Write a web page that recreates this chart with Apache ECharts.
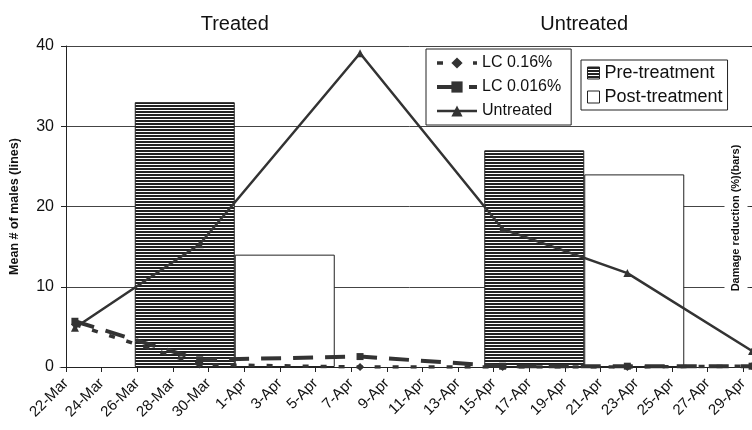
<!DOCTYPE html>
<html><head><meta charset="utf-8">
<script src="https://cdn.jsdelivr.net/npm/echarts@6/dist/echarts.min.js"></script>
<style>html,body{margin:0;padding:0;background:#fff}#c{width:752px;height:430px}</style>
</head><body><div id="c"></div>
<script>
// ---- data ----
const tickLabels = ['22-Mar','24-Mar','26-Mar','28-Mar','30-Mar','1-Apr','3-Apr','5-Apr','7-Apr','9-Apr','11-Apr','13-Apr','15-Apr','17-Apr','19-Apr','21-Apr','23-Apr','25-Apr','27-Apr','29-Apr'];
const sampleDates = ['22-Mar','29-Mar','7-Apr','15-Apr','22-Apr','29-Apr'];
const lcHigh = [5.3, 0.3, 0.0, 0.0, 0.0, 0.1];     // LC 0.16%
const lcLow = [5.7, 0.9, 1.3, 0.1, 0.1, 0.1];      // LC 0.016%
const untreated = [4.9, 15.3, 39.1, 17.2, 11.7, 2.0];
const groups = ['Treated', 'Untreated'];
const preTreatment = [33, 27];
const postTreatment = [14, 24];

const MONTHS = {Mar: 2, Apr: 3};
function dayIndex(s) {
  const p = s.split('-');
  return Math.round((Date.UTC(2000, MONTHS[p[1]], +p[0]) - Date.UTC(2000, 2, 22)) / 86400000);
}
function pts(vals) { return sampleDates.map((s, i) => [dayIndex(s) + 0.5, vals[i]]); }

const FF = '"Liberation Sans", Arial, sans-serif';
const INK = '#333';

// hatch pattern (horizontal lines)
const pc = document.createElement('canvas');
pc.width = 4; pc.height = 3;
const pctx = pc.getContext('2d');
pctx.fillStyle = '#fff'; pctx.fillRect(0, 0, 4, 3);
pctx.fillStyle = '#222'; pctx.fillRect(0, 0, 4, 2);
const hatch = {image: pc, repeat: 'repeat'};

const chart = echarts.init(document.getElementById('c'), null, {renderer: 'canvas'});
chart.setOption({
  animation: false,
  backgroundColor: '#fff',
  textStyle: {fontFamily: FF},
  grid: [
    {left: 60, right: -7, top: 46, bottom: 63, outerBoundsMode: 'none', containLabel: false},
    {left: 66, right: -9, top: 46, bottom: 63, outerBoundsMode: 'none', containLabel: false}
  ],
  xAxis: [
    {gridIndex: 0, type: 'category', data: groups, position: 'top', offset: 2,
     axisLine: {lineStyle: {color: '#777', width: 1}}, axisTick: {show: false},
     axisLabel: {fontSize: 20, color: '#111', fontFamily: FF, margin: 10}, splitLine: {show: false}},
    {gridIndex: 1, type: 'value', min: 0, max: 39, interval: 2,
     axisLine: {onZero: false, lineStyle: {color: '#222', width: 1}},
     axisTick: {length: 5, lineStyle: {color: '#222'}},
     axisLabel: {rotate: 45, fontSize: 15, color: '#111', fontFamily: FF, margin: 14,
       formatter: v => (v % 2 === 0 && tickLabels[v / 2]) ? tickLabels[v / 2] : ''},
     splitLine: {show: false}}
  ],
  yAxis: [
    {gridIndex: 0, type: 'value', min: 0, max: 40, interval: 10, position: 'right',
     axisLine: {show: true, lineStyle: {color: '#222'}},
     axisTick: {show: true, inside: true, length: 9, lineStyle: {color: '#222'}},
     axisLabel: {show: false}, splitLine: {show: false}},
    {gridIndex: 1, type: 'value', min: 0, max: 40, interval: 10, position: 'left',
     axisLine: {show: true, lineStyle: {color: '#222'}},
     axisTick: {show: true, length: 5, lineStyle: {color: '#222'}},
     axisLabel: {fontSize: 16, color: '#111', fontFamily: FF, margin: 12},
     splitLine: {show: true, lineStyle: {color: '#444', width: 1}},
     name: 'Mean # of males (lines)', nameLocation: 'middle', nameGap: 45,
     nameTextStyle: {fontSize: 12.5, fontWeight: 'bold', color: '#111', fontFamily: FF}}
  ],
  legend: [
    {data: ['LC 0.16%', 'LC 0.016%', 'Untreated'], orient: 'vertical', left: 426, top: 49,
     padding: [6, 10, 6, 9], itemGap: 8, itemWidth: 40, itemHeight: 14,
     borderColor: '#222', borderWidth: 1, backgroundColor: '#fff',
     lineStyle: {width: 'inherit'},
     textStyle: {fontSize: 16, color: '#111', fontFamily: FF}},
    {data: ['Pre-treatment', 'Post-treatment'], orient: 'vertical', left: 581, top: 60,
     padding: [4, 5, 4, 6], itemGap: 6, itemWidth: 12, itemHeight: 12, icon: 'rect',
     borderColor: '#222', borderWidth: 1, backgroundColor: '#fff',
     itemStyle: {borderColor: '#222', borderWidth: 1},
     textStyle: {fontSize: 18, color: '#111', fontFamily: FF}}
  ],
  graphic: [
    {type: 'text', x: 736, y: 218, rotation: Math.PI / 2, z: 100,
     style: {text: 'Damage reduction (%)(bars)', font: 'bold 11px ' + FF, fill: '#111',
       align: 'center', verticalAlign: 'middle', backgroundColor: '#fff', padding: [6, 2, 6, 2]}}
  ],
  series: [
    {name: 'Pre-treatment', type: 'bar', xAxisIndex: 0, yAxisIndex: 0, data: preTreatment,
     barWidth: 100, barGap: '0%', itemStyle: {color: hatch, borderColor: '#222', borderWidth: 1}},
    {name: 'Post-treatment', type: 'bar', xAxisIndex: 0, yAxisIndex: 0, data: postTreatment,
     barWidth: 100, barGap: '0%', itemStyle: {color: '#fff', borderColor: '#222', borderWidth: 1}},
    {name: 'Untreated', type: 'line', xAxisIndex: 1, yAxisIndex: 1, data: pts(untreated),
     symbol: 'triangle', symbolSize: 8, lineStyle: {color: INK, width: 2.5},
     itemStyle: {color: INK}},
    {name: 'LC 0.016%', type: 'line', xAxisIndex: 1, yAxisIndex: 1, data: pts(lcLow),
     symbol: 'rect', symbolSize: 7, lineStyle: {color: INK, width: 4, type: [20, 12]},
     itemStyle: {color: INK}},
    {name: 'LC 0.16%', type: 'line', xAxisIndex: 1, yAxisIndex: 1, data: pts(lcHigh),
     symbol: 'diamond', symbolSize: 8, lineStyle: {color: INK, width: 3.5, type: [6, 12]},
     itemStyle: {color: INK}}
  ]
});
</script></body></html>
